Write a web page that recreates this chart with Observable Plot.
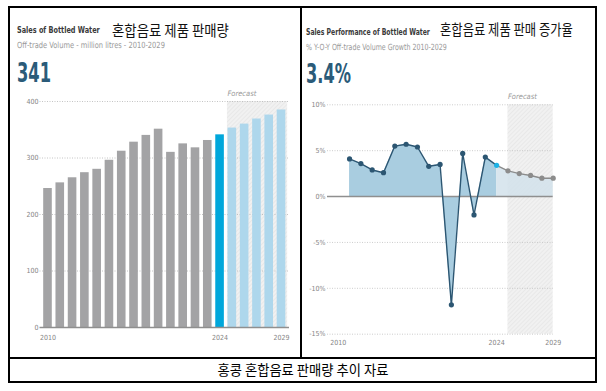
<!DOCTYPE html>
<html>
<head>
<meta charset="utf-8">
<script src="https://cdn.jsdelivr.net/npm/d3@7"></script>
<script src="https://cdn.jsdelivr.net/npm/@observablehq/plot@0.6"></script>
<style>
  html, body { margin: 0; padding: 0; background: #fff; }
  #page { position: relative; width: 606px; height: 391px; overflow: hidden; background: #fff; }
  .chart { position: absolute; }
  .chart svg { background: transparent; overflow: visible; }
  #overlay { position: absolute; left: 0; top: 0; pointer-events: none; }
</style>
</head>
<body>
<div id="page">
  <div id="left" class="chart" style="left:10px; top:88px;"></div>
  <div id="right" class="chart" style="left:302px; top:88px;"></div>
  <svg id="overlay" width="606" height="391"></svg>
</div>
<script>
// ---------------- data ----------------
const years = [2010,2011,2012,2013,2014,2015,2016,2017,2018,2019,2020,2021,2022,2023,2024,2025,2026,2027,2028,2029];
const volume = [246,256,265,274,280,296,312,328,340,351,310,325,318,331,341,353,360,369,376,385];
const growthYears = [2011,2012,2013,2014,2015,2016,2017,2018,2019,2020,2021,2022,2023,2024,2025,2026,2027,2028,2029];
const growth = [4.1,3.6,2.9,2.6,5.5,5.7,5.4,3.3,3.5,-11.8,4.7,-2.0,4.3,3.4,2.8,2.5,2.3,2.0,2.0];
const volumeTicks = [0,100,200,300,400];
const growthTicks = [10,5,0,-5,-10,-15];
const yearTicks = [2010,2024,2029];
const currentYear = 2024;
const forecastLabel = "Forecast";

const leftTitle = "Sales of Bottled Water";
const leftKorean = "혼합음료 제품 판매량";
const leftSubtitle = "Off-trade Volume - million litres - 2010-2029";
const leftBig = "341";
const rightTitle = "Sales Performance of Bottled Water";
const rightKorean = "혼합음료 제품 판매 증가율";
const rightSubtitle = "% Y-O-Y Off-trade Volume Growth 2010-2029";
const rightBig = "3.4%";
const caption = "홍콩 혼합음료 판매량 추이 자료";

// ---------------- styles ----------------
const FONT = "'Liberation Sans Narrow','DejaVu Sans Condensed',Roboto,'Liberation Sans',sans-serif";
const KFONT = "'Noto Sans CJK KR','Noto Sans',sans-serif";
const C_HIST = "#a3a3a5", C_CUR = "#00a7db", C_FORE = "#aed7ec";
const C_LINE = "#2c5672", C_AREA = "#a9cde0", C_AREA_F = "#d2e2eb", C_FLINE = "#8c8c8c", C_DOT_CUR = "#1db3e6";

const volData = years.map((y, i) => ({year: y, v: volume[i]}));
const grData = growthYears.map((y, i) => ({year: y, g: growth[i]}));
const grHist = grData.filter(d => d.year <= currentYear);
const grFore = grData.filter(d => d.year >= currentYear);

function barColor(d) { return d.year < currentYear ? C_HIST : d.year === currentYear ? C_CUR : C_FORE; }

const axisStyle = {fontFamily: FONT, fontSize: "7px", color: "#858585", background: "transparent", overflow: "visible"};

// ---------------- left chart ----------------
const left = Plot.plot({
  width: 288, height: 256,
  marginLeft: 29.5, marginRight: 9, marginTop: 13, marginBottom: 17,
  style: axisStyle,
  x: {type: "linear", domain: [2009.35, 2029.65]},
  y: {domain: [0, 400]},
  marks: [
    Plot.rect([{a: currentYear + 0.6, b: 2029.5}], {x1: "a", x2: "b", y1: 0, y2: 400, fill: "url(#hatch)"}),
    Plot.ruleY(volumeTicks.filter(d => d > 0), {stroke: "#b5b5b5", strokeDasharray: "1,1.5", strokeWidth: 0.8}),
    Plot.rectY(volData, {x1: d => d.year - 0.35, x2: d => d.year + 0.35, y: "v", fill: barColor}),
    Plot.ruleY([0], {stroke: "#8f8f8f", strokeWidth: 1.4}),
    Plot.axisY({ticks: volumeTicks, tickSize: 0, tickPadding: 1.5, label: null}),
    Plot.axisX({ticks: yearTicks, tickFormat: d => String(d), tickSize: 0, tickPadding: 7.5, label: null}),
    Plot.text([forecastLabel], {x: currentYear + 0.6, y: 400, dy: -8, text: d => d, textAnchor: "start",
      fontStyle: "italic", fill: "#9a9a9a", fontSize: 7.5})
  ]
});
document.getElementById("left").appendChild(left);

// ---------------- right chart ----------------
const right = Plot.plot({
  width: 292, height: 262,
  marginLeft: 25, marginRight: 41.3, marginTop: 16.3, marginBottom: 16.3,
  style: axisStyle,
  x: {type: "linear", domain: [2009.05, 2029]},
  y: {domain: [-15, 10]},
  marks: [
    Plot.rect([{a: currentYear + 1, b: 2029}], {x1: "a", x2: "b", y1: -15, y2: 10, fill: "url(#hatch)"}),
    Plot.ruleY(growthTicks.filter(d => d !== 0), {stroke: "#c0c0c0", strokeDasharray: "1,1.5", strokeWidth: 0.8}),
    Plot.areaY(grHist, {x: "year", y: "g", fill: C_AREA}),
    Plot.areaY(grFore, {x: "year", y: "g", fill: C_AREA_F, fillOpacity: 0.85}),
    Plot.ruleY([0], {stroke: "#8f8f8f", strokeWidth: 1.4}),
    Plot.line(grHist, {x: "year", y: "g", stroke: C_LINE, strokeWidth: 1.4}),
    Plot.line(grFore, {x: "year", y: "g", stroke: C_FLINE, strokeWidth: 1.4}),
    Plot.dot(grData, {x: "year", y: "g", r: 2.6,
      fill: d => d.year < currentYear ? C_LINE : d.year === currentYear ? C_DOT_CUR : C_FLINE}),
    Plot.axisY({ticks: growthTicks, tickFormat: d => d + "%", tickSize: 0, tickPadding: 2, label: null}),
    Plot.axisX({ticks: yearTicks, tickFormat: d => String(d), tickSize: 0, tickPadding: 6, label: null}),
    Plot.text([forecastLabel], {x: currentYear + 1, y: 10, dy: -8, text: d => d, textAnchor: "start",
      fontStyle: "italic", fill: "#9a9a9a", fontSize: 7.5})
  ]
});
document.getElementById("right").appendChild(right);

// ---------------- overlay: frame, titles, caption ----------------
const ov = d3.select("#overlay");
const defs = ov.append("defs");
const pat = defs.append("pattern").attr("id", "hatch").attr("patternUnits", "userSpaceOnUse")
  .attr("width", 3).attr("height", 3).attr("patternTransform", "rotate(45)");
pat.append("rect").attr("width", 3).attr("height", 3).attr("fill", "#f1f1f1");
pat.append("line").attr("x1", 0).attr("y1", 0).attr("x2", 0).attr("y2", 3).attr("stroke", "#e0e0e0").attr("stroke-width", 1);

const frame = ov.append("g").attr("stroke", "#000").attr("stroke-width", 2).attr("fill", "none");
frame.append("rect").attr("x", 9).attr("y", 7).attr("width", 587).attr("height", 375);
frame.append("line").attr("x1", 301).attr("y1", 7).attr("x2", 301).attr("y2", 358);
frame.append("line").attr("x1", 9).attr("y1", 358).attr("x2", 596).attr("y2", 358);

// text fitted horizontally to a target width with a scale transform
function txt(s, x, y, opts) {
  const t = ov.append("text").attr("x", 0).attr("y", 0).text(s)
    .attr("font-family", opts.font || FONT)
    .attr("font-size", opts.size)
    .attr("font-weight", opts.weight || "normal")
    .attr("fill", opts.fill || "#222");
  let k = 1;
  if (opts.len) {
    const w = t.node().getComputedTextLength();
    if (w > 0) k = opts.len / w;
  }
  let x0 = x;
  if (opts.anchor === "middle") x0 = x - (opts.len || 0) / 2;
  t.attr("transform", `translate(${x0},${y}) scale(${k},1)`);
  return t;
}
txt(leftTitle, 17, 33, {size: 9.5, weight: "bold", fill: "#3a3a3a", len: 83});
txt(leftKorean, 112, 36, {size: 15, font: KFONT, fill: "#111", len: 117});
txt(leftSubtitle, 17, 48, {size: 8.5, fill: "#9a9a9a", len: 148});
txt(leftBig, 17, 82, {size: 27, weight: "bold", fill: "#2b5b79", len: 34});

txt(rightTitle, 306, 35, {size: 9.5, weight: "bold", fill: "#3a3a3a", len: 124});
txt(rightKorean, 440, 35, {size: 15, font: KFONT, fill: "#111", len: 133});
txt(rightSubtitle, 306, 50, {size: 8.5, fill: "#9a9a9a", len: 141});
txt(rightBig, 306, 83, {size: 27, weight: "bold", fill: "#2b5b79", len: 45});

txt(caption, 303, 375, {size: 13.5, font: KFONT, fill: "#000", anchor: "middle", len: 171});
</script>
</body>
</html>
